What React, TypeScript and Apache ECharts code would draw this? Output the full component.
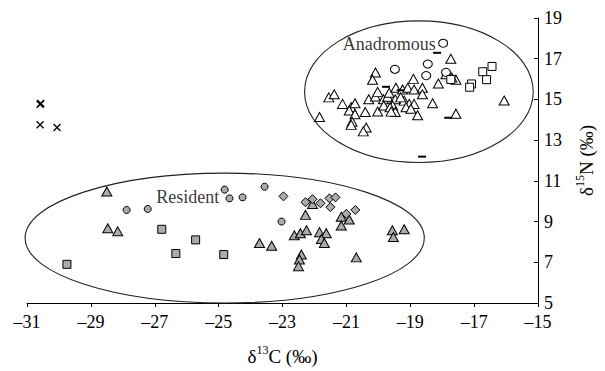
import React, { useEffect, useRef } from "react";
import * as echarts from "echarts";

// δ13C, δ15N values
const anadromousTriangles: [number, number][] = [
  [-17.73, 17.0], [-20.09, 16.32], [-20.18, 15.97], [-18.9, 16.01], [-18.12, 15.78],
  [-17.57, 15.97], [-17.88, 16.24], [-17.7, 16.08], [-21.55, 15.1], [-21.38, 15.25],
  [-21.12, 14.78], [-20.85, 14.62], [-20.73, 14.81], [-20.91, 14.46], [-20.73, 14.27],
  [-20.41, 14.38], [-20.02, 14.41], [-21.84, 14.14], [-20.82, 13.9], [-20.85, 13.75],
  [-20.38, 13.62], [-20.47, 13.43], [-20.3, 15.01], [-20.09, 15.14], [-20.02, 15.37],
  [-19.84, 15.01], [-19.71, 15.13], [-19.66, 15.33], [-19.45, 15.57], [-19.24, 15.49],
  [-19.08, 15.57], [-18.88, 15.49], [-18.62, 15.57], [-18.62, 15.25], [-19.47, 15.01],
  [-19.55, 14.7], [-19.19, 14.94], [-19.03, 14.78], [-18.88, 14.78], [-19.83, 14.7],
  [-19.63, 14.62], [-19.47, 14.38], [-19.13, 14.62], [-18.98, 14.54], [-18.77, 14.22],
  [-18.3, 14.81], [-17.57, 14.3], [-16.06, 14.95], [-19.6, 14.4], [-19.3, 15.1],
];
const anadromousCircles: [number, number][] = [
  [-17.97, 17.76], [-19.48, 16.48], [-18.45, 16.74], [-18.5, 16.17], [-17.88, 16.33],
];
const anadromousSquares: [number, number][] = [
  [-16.44, 16.62], [-16.73, 16.36], [-16.61, 15.97], [-17.08, 15.76], [-17.14, 15.6], [-17.73, 15.98],
];
const anadromousDashes: [number, number][] = [
  [-18.16, 17.29], [-17.81, 14.1], [-18.63, 12.19], [-19.76, 15.62], [-19.3, 15.45],
];
const crosses: [number, number][] = [
  [-30.59, 14.76], [-30.57, 14.8], [-30.59, 13.76], [-30.06, 13.62],
];
const residentTriangles: [number, number][] = [
  [-28.5, 10.48], [-28.47, 8.67], [-28.16, 8.52], [-22.06, 9.86], [-22.28, 9.33],
  [-21.16, 9.24], [-20.91, 9.1], [-21.16, 8.81], [-22.63, 8.33], [-22.44, 8.43],
  [-22.25, 8.57], [-21.84, 8.48], [-21.63, 8.43], [-21.78, 8.14], [-21.69, 7.95],
  [-22.41, 7.38], [-22.47, 7.14], [-22.5, 6.81], [-20.69, 7.24], [-19.56, 8.57],
  [-19.53, 8.24], [-19.19, 8.62], [-23.72, 7.95], [-23.34, 7.81],
];
const residentCircles: [number, number][] = [
  [-27.88, 9.57], [-27.22, 9.62], [-24.81, 10.57], [-24.66, 10.14], [-24.25, 10.19],
  [-23.56, 10.71], [-23.03, 9.0],
];
const residentDiamonds: [number, number][] = [
  [-22.97, 10.24], [-22.28, 9.95], [-22.06, 10.1], [-21.81, 9.9], [-21.53, 10.14],
  [-21.34, 10.19], [-21.5, 9.71], [-20.72, 9.57], [-21.0, 9.38],
];
const residentSquares: [number, number][] = [
  [-29.75, 6.9], [-26.78, 8.62], [-25.72, 8.1], [-26.34, 7.43], [-24.84, 7.38],
];
// group ellipses: centre x, centre y, half-width, half-height (data units)
const groupEllipses: number[][] = [
  [-18.73, 15.38, 3.58, 3.48],
  [-24.81, 8.19, 6.25, 3.19],
];
const groupLabels = [
  { name: "Anadromous", value: [-19.66, 17.71] },
  { name: "Resident", value: [-25.97, 10.19] },
];
const xTicks = { min: -31, max: -15, interval: 2 };
const yTicks = { min: 5, max: 19, interval: 2 };

const FONT = "Liberation Serif";
const GREY = "#ababab";

function pts(data: [number, number][], symbol: string, size: any, fill: string, border = "#000", bw = 1) {
  return {
    type: "scatter",
    data,
    symbol,
    symbolSize: size,
    itemStyle: { color: fill, borderColor: border, borderWidth: bw, opacity: 1 },
    z: 3,
  };
}

const nameRich = {
  m: { fontFamily: FONT, fontSize: 19, color: "#000", lineHeight: 22, verticalAlign: "bottom" },
  s: { fontFamily: FONT, fontSize: 12, color: "#000", lineHeight: 22, verticalAlign: "top", padding: [0, 0, 9, 0] },
};

export default function App() {
  const ref = useRef<HTMLDivElement>(null);
  useEffect(() => {
    document.body.style.margin = "0";
    const chart = echarts.init(ref.current!, null, { renderer: "svg" });
    const minus = (v: number) => String(v).replace("-", "–");
    chart.setOption({
      animation: false,
      grid: { left: 27, right: 67, top: 18, bottom: 59 },
      xAxis: {
        type: "value",
        ...xTicks,
        splitLine: { show: false },
        axisLine: { onZero: false, lineStyle: { color: "#000", width: 1 } },
        axisTick: { length: 4, lineStyle: { color: "#000" } },
        axisLabel: { color: "#000", fontFamily: FONT, fontSize: 18, margin: 10, formatter: minus },
        name: "{m|δ}{s|13}{m|C (‰)}",
        nameLocation: "middle",
        nameGap: 41,
        nameTextStyle: { rich: nameRich },
      },
      yAxis: {
        type: "value",
        position: "right",
        ...yTicks,
        splitLine: { show: false },
        axisLine: { onZero: false, lineStyle: { color: "#000", width: 1 } },
        axisTick: { inside: true, length: 4, lineStyle: { color: "#000" } },
        axisLabel: { color: "#000", fontFamily: FONT, fontSize: 18, margin: 6 },
        name: "{m|δ}{s|15}{m|N (‰)}",
        nameLocation: "middle",
        nameGap: 36,
        nameRotate: 90,
        nameTextStyle: { rich: nameRich },
      },
      series: [
        {
          type: "custom",
          data: groupEllipses,
          encode: { x: 0, y: 1 },
          clip: false,
          z: 1,
          renderItem: (params: any, api: any) => {
            const c = api.coord([api.value(0), api.value(1)]);
            const s = api.size([api.value(2), api.value(3)]);
            return {
              type: "ellipse",
              shape: { cx: c[0], cy: c[1], rx: s[0], ry: s[1] },
              style: { fill: "none", stroke: "#222", lineWidth: 1.1 },
            };
          },
        },
        pts(anadromousTriangles, "triangle", [10, 9], "#fff"),
        pts(anadromousCircles, "circle", [9, 8], "#fff"),
        pts(anadromousSquares, "rect", 8, "#fff"),
        pts(anadromousDashes, "rect", [8, 2], "#000", "#000", 0),
        pts(crosses, "path://M0,0L10,10M10,0L0,10", 7, "#000", "#000", 1.3),
        pts(residentTriangles, "triangle", [10, 9], GREY),
        pts(residentCircles, "circle", 7, GREY),
        pts(residentDiamonds, "diamond", 9, GREY),
        pts(residentSquares, "rect", 8, GREY),
        {
          type: "scatter",
          data: groupLabels,
          symbolSize: 1,
          itemStyle: { color: "rgba(0,0,0,0)" },
          z: 2,
          label: {
            show: true,
            position: "inside",
            formatter: "{b}",
            fontFamily: FONT,
            fontSize: 18,
            color: "#000",
          },
        },
      ],
    });
    return () => chart.dispose();
  }, []);
  return <div ref={ref} style={{ width: 605, height: 371 }} />;
}
